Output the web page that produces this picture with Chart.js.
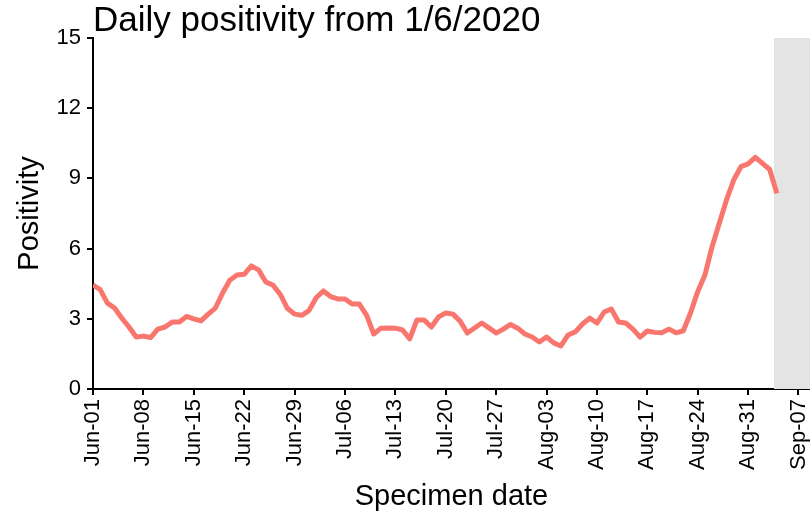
<!DOCTYPE html>
<html>
<head>
<meta charset="utf-8">
<script src="https://cdn.jsdelivr.net/npm/chart.js@4"></script>
<style>
  body { margin: 0; background: #fff; }
  canvas { display: block; }
</style>
</head>
<body>
<canvas id="positivityChart" width="810" height="521"></canvas>
<script>
// Daily positivity, one value per day from Jun-01 (day 0) to Sep-04 (day 95)
const positivity = [
  4.44, 4.25, 3.67, 3.46, 3.03, 2.65, 2.22, 2.26, 2.20, 2.56,
  2.65, 2.86, 2.86, 3.10, 3.00, 2.91, 3.20, 3.46, 4.10, 4.65,
  4.87, 4.90, 5.26, 5.09, 4.57, 4.44, 4.05, 3.45, 3.20, 3.15,
  3.35, 3.90, 4.19, 3.95, 3.85, 3.85, 3.63, 3.63, 3.16, 2.35,
  2.60, 2.61, 2.60, 2.52, 2.14, 2.95, 2.95, 2.65, 3.08, 3.25,
  3.20, 2.90, 2.39, 2.61, 2.82, 2.61, 2.39, 2.56, 2.76, 2.60,
  2.35, 2.22, 2.01, 2.22, 1.97, 1.84, 2.31, 2.44, 2.78, 3.03,
  2.82, 3.29, 3.42, 2.86, 2.82, 2.56, 2.22, 2.48, 2.42, 2.40,
  2.56, 2.40, 2.49, 3.25, 4.16, 4.87, 6.08, 7.08, 8.08, 8.93,
  9.50, 9.62, 9.90, 9.64, 9.38, 8.36
];

// x tick labels, one every 7 days
const tickLabels = ['Jun-01', 'Jun-08', 'Jun-15', 'Jun-22', 'Jun-29', 'Jul-06', 'Jul-13',
  'Jul-20', 'Jul-27', 'Aug-03', 'Aug-10', 'Aug-17', 'Aug-24', 'Aug-31', 'Sep-07'];
const yTicks = [0, 3, 6, 9, 12, 15];

// shaded (incomplete) period starts here, in days from Jun-01
const shadeStart = 94.6;
const xMax = 99.6;

const FONT = "'Liberation Sans', Arial, sans-serif";

// grey band behind the line for the latest days
const shadePlugin = {
  id: 'shade',
  beforeDatasetsDraw(chart) {
    const {ctx, chartArea, scales} = chart;
    const x0 = scales.x.getPixelForValue(shadeStart);
    ctx.save();
    ctx.fillStyle = '#e4e4e4';
    ctx.fillRect(x0, chartArea.top, chartArea.right - x0, chartArea.bottom - chartArea.top);
    ctx.restore();
  }
};

const config = {
  type: 'line',
  data: {
    datasets: [{
      label: 'Positivity',
      data: positivity.map((v, i) => ({x: i, y: v})),
      borderColor: '#f8766d',
      borderWidth: 5,
      pointRadius: 0,
      tension: 0,
      borderJoinStyle: 'round',
      borderCapStyle: 'butt',
      fill: false
    }]
  },
  options: {
    responsive: false,
    animation: false,
    devicePixelRatio: 1,
    layout: { padding: 0 },
    plugins: {
      legend: { display: false },
      tooltip: { enabled: false },
      title: {
        display: true,
        text: 'Daily positivity from 1/6/2020',
        align: 'start',
        fullSize: false,
        color: '#000',
        font: { family: FONT, size: 35, weight: 'normal', lineHeight: 0.943 },
        padding: { top: 5, bottom: 0 }
      }
    },
    scales: {
      x: {
        type: 'linear',
        min: 0,
        max: xMax,
        afterBuildTicks: (scale) => {
          scale.ticks = tickLabels.map((_, i) => ({ value: i * 7 }));
        },
        afterFit: (scale) => {
          scale.height = 132;
          scale.paddingLeft = 0;
          scale.paddingRight = 0;
        },
        ticks: {
          autoSkip: false,
          maxRotation: 90,
          minRotation: 90,
          padding: 4,
          color: '#000',
          font: { family: FONT, size: 22 },
          callback: (value) => tickLabels[Math.round(value / 7)]
        },
        grid: {
          drawOnChartArea: false,
          drawTicks: true,
          tickLength: 6,
          color: '#000',
          lineWidth: 2
        },
        border: { display: true, color: '#000', width: 2 },
        title: {
          display: true,
          text: 'Specimen date',
          color: '#000',
          font: { family: FONT, size: 29 },
          padding: { top: 0, bottom: 7 }
        }
      },
      y: {
        min: 0,
        max: 15,
        afterBuildTicks: (scale) => {
          scale.ticks = yTicks.map(v => ({ value: v }));
        },
        afterFit: (scale) => {
          scale.width = 93;
          scale.paddingTop = 0;
          scale.paddingBottom = 0;
        },
        ticks: {
          padding: 6,
          color: '#000',
          font: { family: FONT, size: 22 }
        },
        grid: {
          drawOnChartArea: false,
          drawTicks: true,
          tickLength: 6,
          color: '#000',
          lineWidth: 2
        },
        border: { display: true, color: '#000', width: 2 },
        title: {
          display: true,
          text: 'Positivity',
          color: '#000',
          font: { family: FONT, size: 29 },
          padding: { top: 13, bottom: 0 }
        }
      }
    }
  },
  plugins: [shadePlugin]
};

const myChart = new Chart(document.getElementById('positivityChart'), config);
</script>
</body>
</html>
